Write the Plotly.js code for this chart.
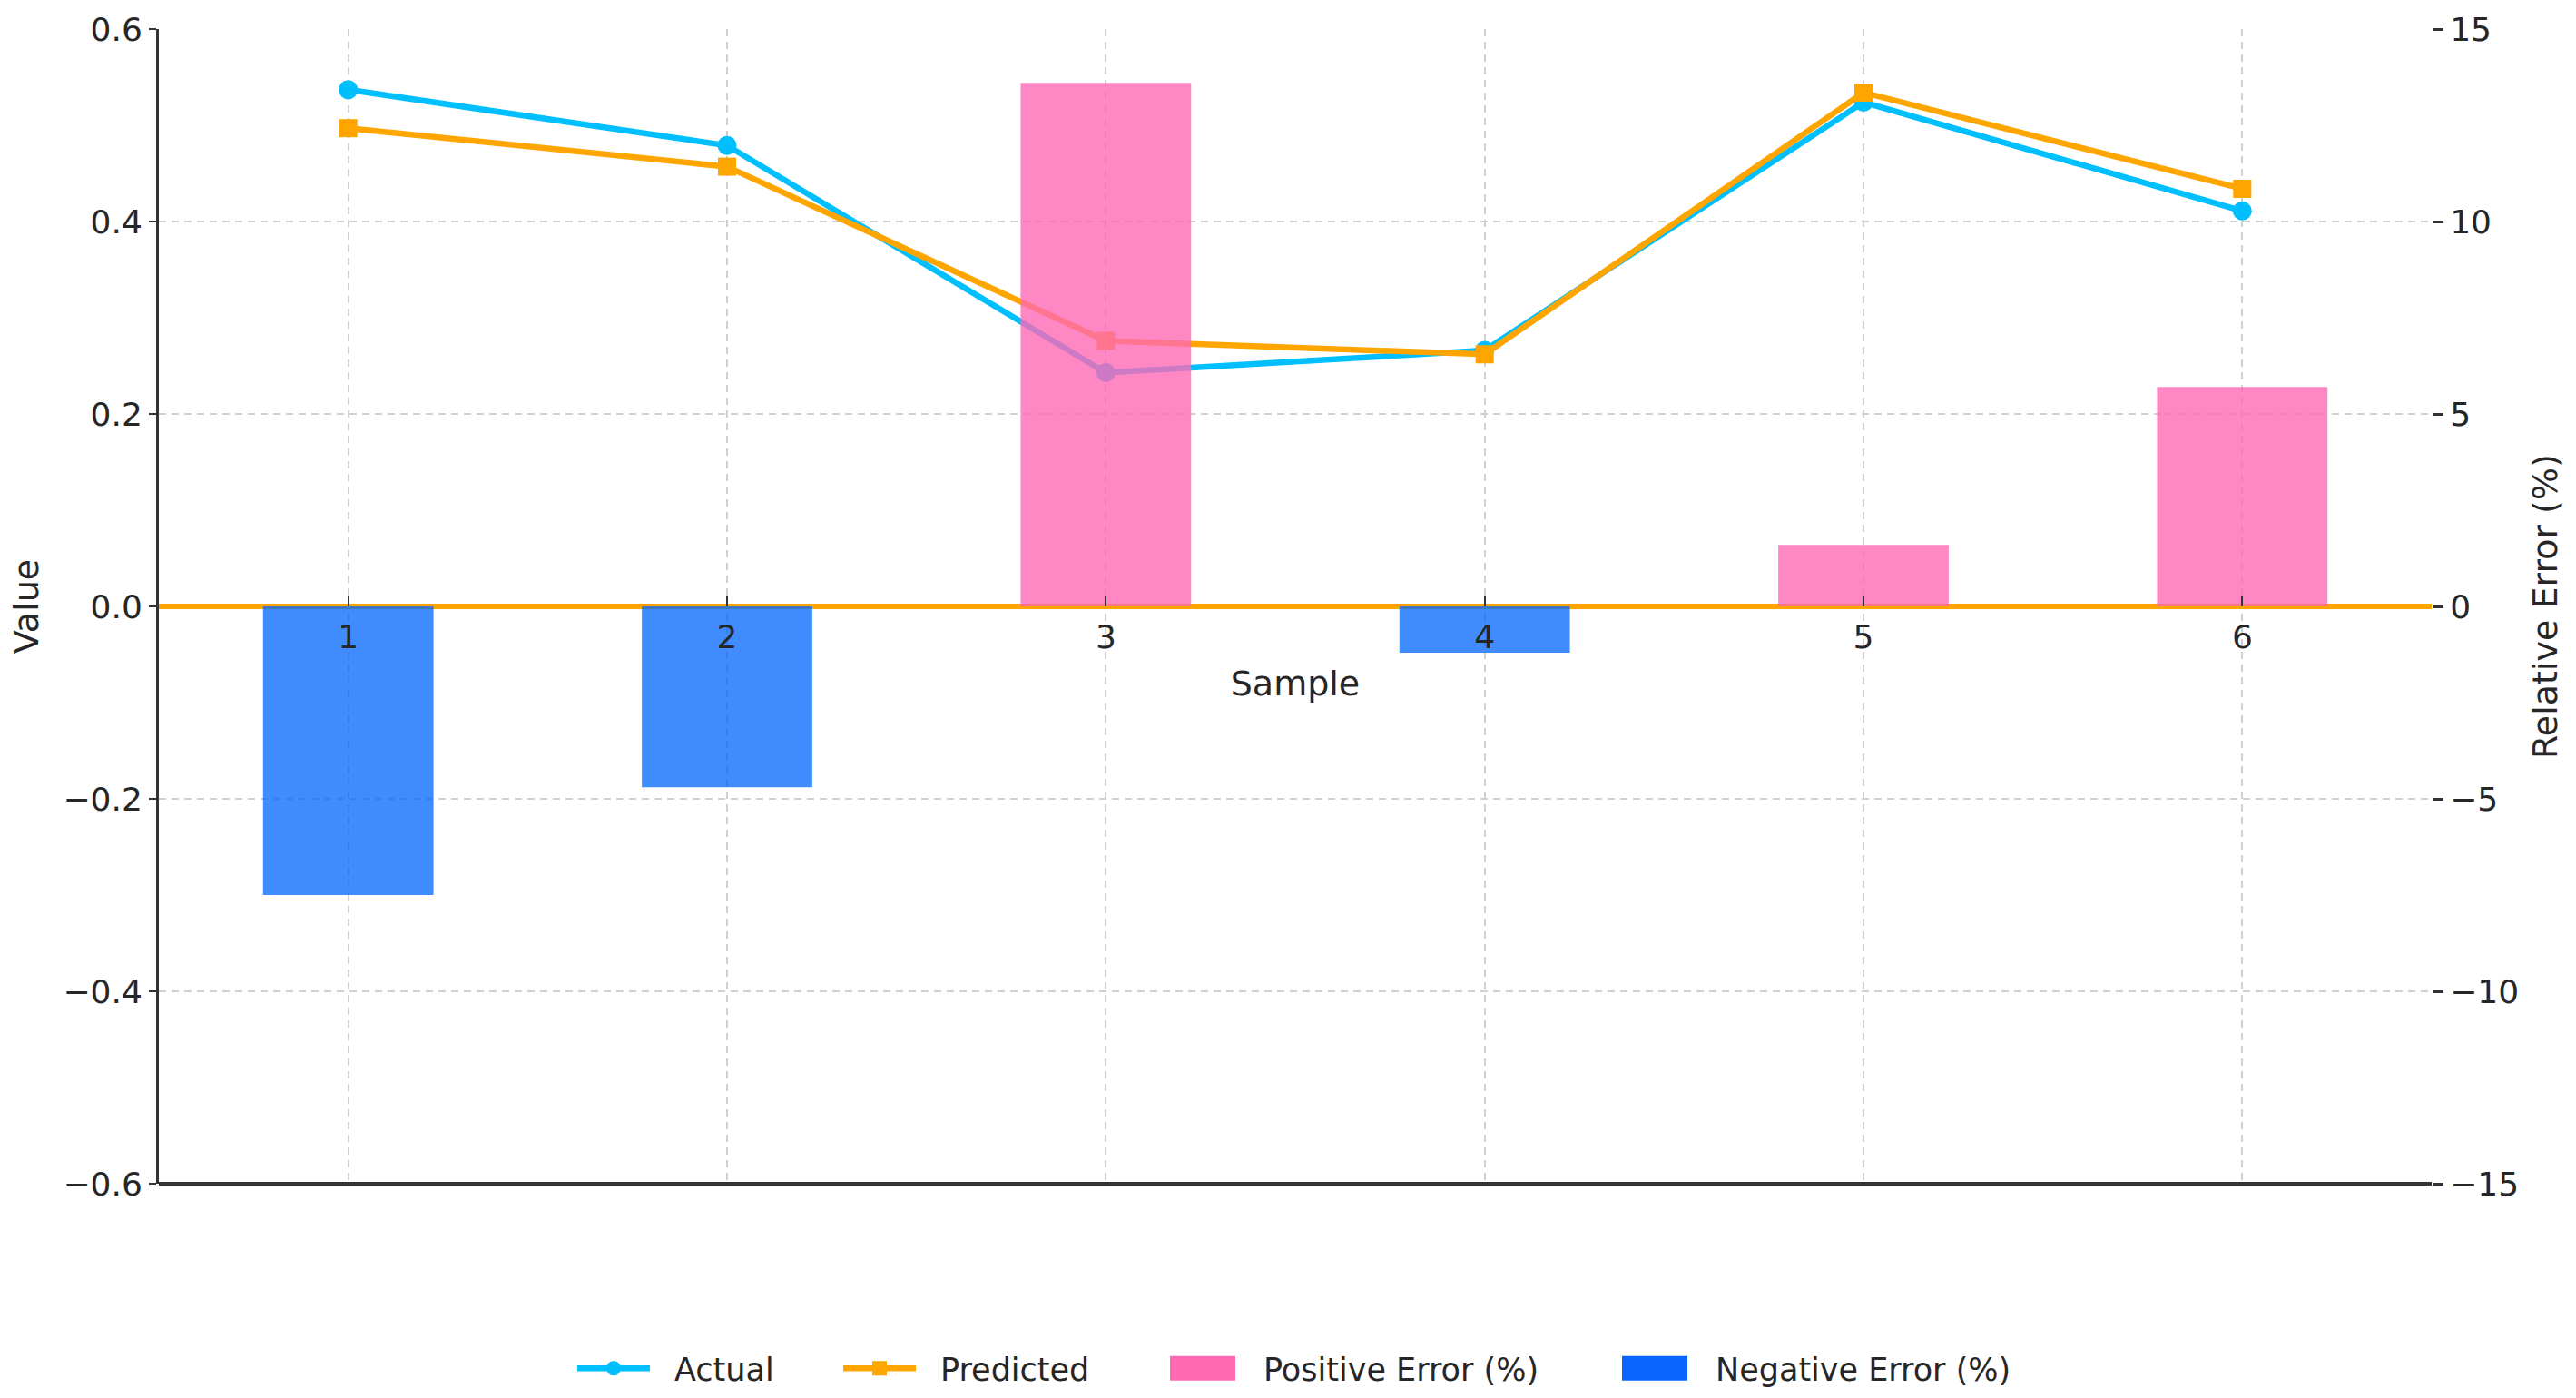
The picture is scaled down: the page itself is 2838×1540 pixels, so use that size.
<!DOCTYPE html>
<html>
<head>
<meta charset="utf-8">
<script src="https://cdn.plot.ly/plotly-3.0.1.min.js"></script>
<style>
  html, body { margin: 0; padding: 0; background: #fff; }
  #plot { width: 2838px; height: 1540px; }
</style>
</head>
<body>
<div id="plot"></div>
<script>
const samples = [1, 2, 3, 4, 5, 6]
const actual = [0.537, 0.479, 0.243, 0.266, 0.524, 0.411]
const predicted = [0.497, 0.457, 0.276, 0.262, 0.534, 0.434]
const relError = [-7.5, -4.7, 13.6, -1.2, 1.6, 5.7]

const posError = relError.map((v) => v > 0 ? v : null)
const negError = relError.map((v) => v < 0 ? v : null)

const font = 'DejaVu Sans, sans-serif'
const textColor = '#262626'
const gridColor = '#d0d0d0'

// bars are translucent, legend patches are solid like in the original
const posColor = 'rgba(255,105,180,0.8)'
const negColor = 'rgba(0,102,255,0.75)'
const swatchColors = { 'Positive Error (%)': '#ff69b4', 'Negative Error (%)': '#0a66ff' }

function styleLegend(gd) {
    gd.querySelectorAll('.legend .traces').forEach((item) => {
        const label = item.querySelector('text.legendtext')
        if (!label) return
        const name = label.textContent
        if (!label.dataset.shifted) {
            label.setAttribute('x', parseFloat(label.getAttribute('x') || 0) + 22)
            label.dataset.shifted = '1'
        }
        if (!(name in swatchColors)) return
        item.querySelectorAll('.legendpoints path').forEach((p) => {
            if (p.dataset.scaled) return
            p.setAttribute('transform', (p.getAttribute('transform') || '') + ' scale(6,2.25)')
            p.style.fill = swatchColors[name]
            p.style.fillOpacity = '1'
            p.dataset.scaled = '1'
        })
    })
}

function draw() {
    const traceActual = {
        x: samples,
        y: actual,
        type: 'scatter',
        mode: 'lines+markers',
        name: 'Actual',
        legendwidth: 198,
        line: { color: '#00bfff', width: 6.5 },
        marker: { color: '#00bfff', size: 21, symbol: 'circle' },
        yaxis: 'y'
    }

    const tracePredicted = {
        x: samples,
        y: predicted,
        type: 'scatter',
        mode: 'lines+markers',
        name: 'Predicted',
        legendwidth: 261,
        line: { color: '#ffa500', width: 6.5 },
        marker: { color: '#ffa500', size: 20, symbol: 'square' },
        yaxis: 'y'
    }

    const tracePos = {
        x: samples,
        y: posError,
        type: 'bar',
        name: 'Positive Error (%)',
        legendwidth: 403,
        width: 0.45,
        marker: { color: posColor, line: { width: 0 } },
        yaxis: 'y2'
    }

    const traceNeg = {
        x: samples,
        y: negError,
        type: 'bar',
        name: 'Negative Error (%)',
        legendwidth: 350,
        width: 0.45,
        marker: { color: negColor, line: { width: 0 } },
        yaxis: 'y2'
    }

    const layout = {
        width: 2838,
        height: 1540,
        margin: { l: 175, r: 159, t: 32, b: 236, autoexpand: false },
        paper_bgcolor: '#fff',
        plot_bgcolor: '#fff',
        font: { family: font, size: 36, color: textColor },
        barmode: 'overlay',
        showlegend: true,
        legend: {
            orientation: 'h',
            x: 0.5,
            xanchor: 'center',
            y: -0.16,
            yanchor: 'middle',
            font: { family: font, size: 35, color: textColor },
            itemwidth: 80,
            tracegroupgap: 0
        },
        xaxis: {
            range: [0.5, 6.5],
            tickvals: samples,
            ticktext: samples.map(String),
            anchor: 'free',
            position: 0.5,
            showline: false,
            ticks: 'inside',
            ticklen: 12,
            tickwidth: 2,
            tickcolor: '#333',
            ticklabelstandoff: 9,
            tickfont: { family: font, size: 36, color: textColor },
            showgrid: true,
            gridcolor: gridColor,
            gridwidth: 2,
            griddash: '8px,6px',
            zeroline: false,
            automargin: true,
            title: { text: 'Sample', font: { family: font, size: 38, color: textColor }, standoff: 18 }
        },
        yaxis: {
            range: [-0.6, 0.6],
            tickvals: [-0.6, -0.4, -0.2, 0, 0.2, 0.4, 0.6],
            tickformat: '.1f',
            showline: true,
            linecolor: '#333',
            linewidth: 3,
            ticks: 'outside',
            ticklen: 8,
            tickwidth: 2,
            tickcolor: '#333',
            tickfont: { family: font, size: 36, color: textColor },
            showgrid: true,
            gridcolor: gridColor,
            gridwidth: 2,
            griddash: '8px,6px',
            zeroline: true,
            zerolinecolor: '#ffa500',
            zerolinewidth: 6,
            automargin: true,
            title: { text: 'Value', font: { family: font, size: 38, color: textColor }, standoff: 16 }
        },
        yaxis2: {
            range: [-15, 15],
            tickvals: [-15, -10, -5, 0, 5, 10, 15],
            overlaying: 'y',
            side: 'right',
            showline: false,
            ticks: 'outside',
            ticklen: 12,
            tickwidth: 3,
            tickcolor: '#333',
            tickfont: { family: font, size: 36, color: textColor },
            showgrid: false,
            zeroline: false,
            automargin: true,
            title: { text: 'Relative Error (%)', font: { family: font, size: 38, color: textColor }, standoff: 16 }
        },
        shapes: [
            {
                type: 'line', xref: 'paper', yref: 'paper',
                x0: 0, x1: 1, y0: 0, y1: 0,
                line: { color: '#333', width: 4 }
            }
        ]
    }

    Plotly.newPlot('plot', [traceActual, tracePredicted, tracePos, traceNeg], layout, { displayModeBar: false })
        .then((gd) => {
            styleLegend(gd)
            gd.on('plotly_afterplot', () => styleLegend(gd))
            setTimeout(() => styleLegend(gd), 50)
        })
}

draw()
</script>
</body>
</html>
